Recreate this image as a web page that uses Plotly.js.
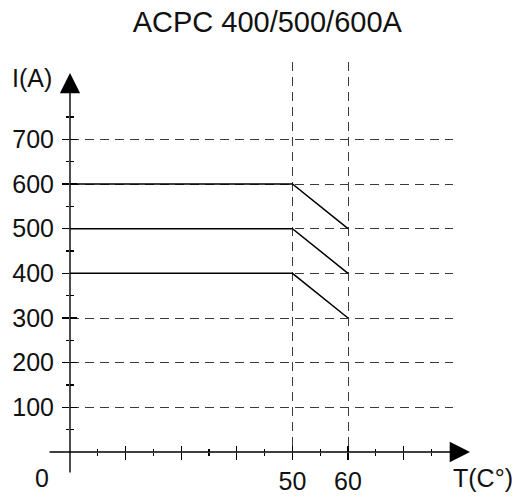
<!DOCTYPE html>
<html><head><meta charset="utf-8">
<script src="https://cdn.plot.ly/plotly-3.0.1.min.js"></script>
<style>html,body{margin:0;padding:0;background:#fff}#chart{width:516px;height:498px}</style>
</head><body><div id="chart"></div>
<script>
// ---- data ----
const chartTitle = 'ACPC 400/500/600A';
const yAxisLabel = 'I(A)';
const xAxisLabel = 'T(C°)';
const originLabel = '0';
// schematic temperature axis: position = major tick index
const tempPos = [0, 4, 5];          // 0 °C, 50 °C, 60 °C
const series600 = [600, 600, 500];
const series500 = [500, 500, 400];
const series400 = [400, 400, 300];
const yTickVals = [100, 200, 300, 400, 500, 600, 700];
const yTickText = ['100', '200', '300', '400', '500', '600', '700'];
const yMinorVals = [50, 150, 250, 350, 450, 550, 650, 750];
const xMajorVals = [1, 2, 3, 4, 5, 6];
const xMinorVals = [0.5, 1.5, 2.5, 3.5, 4.5, 5.5, 6.5];
const xGridVals = [4, 5];
const xGridText = ['50', '60'];

// ---- styling ----
const FONT = '"Liberation Sans", Arial, Helvetica, sans-serif';
const TXT = '#111';
const xRange = [0, 6.888];
const yRange = [0, 873.2];
const gridStyle = {showgrid: true, gridcolor: '#3a3a3a', gridwidth: 1, griddash: '9px,6px'};

const lineTrace = (y) => ({
  x: tempPos, y: y, type: 'scatter', mode: 'lines',
  line: {color: '#000', width: 1.5}, hoverinfo: 'skip', showlegend: false
});

const data = [
  lineTrace(series600), lineTrace(series500), lineTrace(series400),
  {x: [], y: [], xaxis: 'x2', yaxis: 'y', type: 'scatter', showlegend: false, hoverinfo: 'skip'},
  {x: [], y: [], xaxis: 'x3', yaxis: 'y', type: 'scatter', showlegend: false, hoverinfo: 'skip'},
  {x: [], y: [], xaxis: 'x', yaxis: 'y2', type: 'scatter', showlegend: false, hoverinfo: 'skip'}
];

const tickCommon = {tickcolor: '#000', tickwidth: 1.3, showline: false, zeroline: false};

const layout = {
  width: 516, height: 498,
  margin: {l: 70, r: 63, t: 62, b: 45.5},
  paper_bgcolor: '#fff', plot_bgcolor: '#fff',
  font: {family: FONT, color: TXT, size: 25},
  showlegend: false,
  title: {text: chartTitle, x: 0.518, xanchor: 'center', y: 0.956, yanchor: 'middle',
          font: {family: FONT, size: 29, color: TXT}},
  xaxis: Object.assign({}, gridStyle, tickCommon, {
    range: xRange, fixedrange: true,
    tickmode: 'array', tickvals: xGridVals, ticktext: xGridText,
    ticks: 'outside', ticklen: 6.5, ticklabelstandoff: 0,
    tickfont: {family: FONT, size: 25, color: TXT}
  }),
  xaxis2: Object.assign({}, tickCommon, {
    overlaying: 'x', anchor: 'y', side: 'bottom', range: xRange, fixedrange: true,
    showgrid: false, showticklabels: false,
    tickmode: 'array', tickvals: xMajorVals, ticks: 'outside', ticklen: 6.5,
    minor: {tickmode: 'array', tickvals: xMinorVals, ticks: 'outside', ticklen: 3.3, tickcolor: '#000', tickwidth: 1.3, showgrid: false}
  }),
  xaxis3: Object.assign({}, tickCommon, {
    overlaying: 'x', anchor: 'y', side: 'bottom', range: xRange, fixedrange: true,
    showgrid: false, showticklabels: false,
    tickmode: 'array', tickvals: xMajorVals, ticks: 'inside', ticklen: 6.5,
    minor: {tickmode: 'array', tickvals: xMinorVals, ticks: 'inside', ticklen: 3.3, tickcolor: '#000', tickwidth: 1.3, showgrid: false}
  }),
  yaxis: Object.assign({}, gridStyle, tickCommon, {
    range: yRange, fixedrange: true,
    tickmode: 'array', tickvals: yTickVals, ticktext: yTickText,
    ticks: 'outside', ticklen: 7, ticklabelstandoff: 3,
    tickfont: {family: FONT, size: 25, color: TXT},
    minor: {tickmode: 'array', tickvals: yMinorVals, ticks: 'outside', ticklen: 3.5, tickcolor: '#000', tickwidth: 1.3, showgrid: false}
  }),
  yaxis2: Object.assign({}, tickCommon, {
    overlaying: 'y', anchor: 'x', side: 'left', range: yRange, fixedrange: true,
    showgrid: false, showticklabels: false,
    tickmode: 'array', tickvals: yTickVals, ticks: 'inside', ticklen: 7,
    minor: {tickmode: 'array', tickvals: yMinorVals, ticks: 'inside', ticklen: 3.5, tickcolor: '#000', tickwidth: 1.3, showgrid: false}
  }),
  annotations: [
    // x axis line with arrow
    {xref: 'paper', x: 1.0444, yref: 'y', y: 0, axref: 'pixel', ayref: 'pixel', ax: -422, ay: 0,
     showarrow: true, arrowhead: 2, arrowsize: 2.9, arrowwidth: 1.4, arrowcolor: '#000', standoff: 0, text: ''},
    // y axis line with arrow
    {xref: 'x', x: 0, yref: 'paper', y: 0.9718, axref: 'pixel', ayref: 'pixel', ax: 0, ay: 401,
     showarrow: true, arrowhead: 2, arrowsize: 2.9, arrowwidth: 1.4, arrowcolor: '#000', standoff: 0, text: ''},
    {xref: 'x', x: 0, xshift: -28.5, yref: 'y', y: 0, yshift: -25.5, text: originLabel, showarrow: false,
     xanchor: 'center', yanchor: 'middle', font: {family: FONT, size: 25, color: TXT}},
    {xref: 'paper', x: 1.078, yref: 'y', y: 0, yshift: -25.5, text: xAxisLabel, showarrow: false,
     xanchor: 'center', yanchor: 'middle', font: {family: FONT, size: 25, color: TXT}},
    {xref: 'x', x: 0, xshift: -38.5, yref: 'paper', y: 0.959, text: yAxisLabel, showarrow: false,
     xanchor: 'center', yanchor: 'middle', font: {family: FONT, size: 25, color: TXT}}
  ]
};

Plotly.newPlot('chart', data, layout, {displayModeBar: false, staticPlot: true});
</script>
</body></html>
